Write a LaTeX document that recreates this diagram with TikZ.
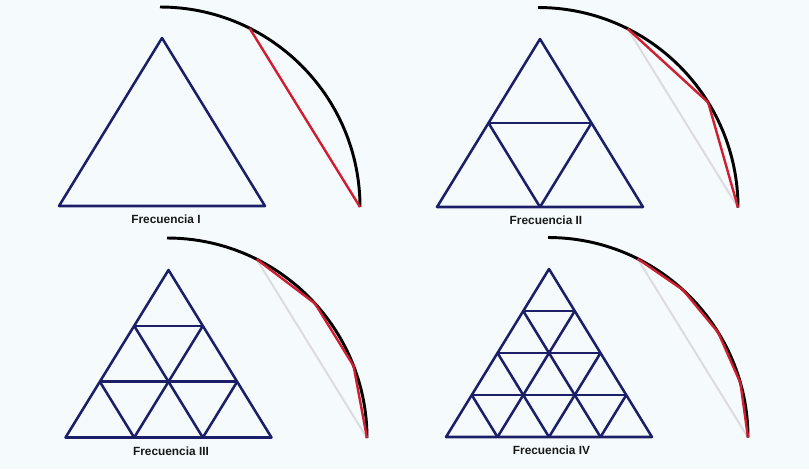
\documentclass[tikz,border=0pt]{standalone}
\usepackage{fontspec}
\setmainfont{Liberation Sans}
\usetikzlibrary{calc}
\definecolor{bgc}{RGB}{245,251,253}
\definecolor{navy}{RGB}{28,30,104}
\definecolor{redc}{RGB}{208,30,48}
\definecolor{grayc}{RGB}{220,220,224}
\tikzset{
  tri/.style={draw=navy,line width=1.9pt,line join=round},
  arcl/.style={draw=black,line width=2.2pt},
  redl/.style={draw=redc,line width=1.8pt,line join=round},
  grayl/.style={draw=grayc,line width=1.5pt},
  lab/.style={font=\bfseries\fontsize{8.9pt}{10pt}\selectfont,text=black!90,inner sep=0pt}
}
% #1 id, #2 n, #3 arc cx, #4 arc cy, #5 tri cx, #6 apex y, #7 base y, #8 label x, #9 label
\newcommand{\drawpanel}[9]{%
  \coordinate (C#1) at (#3,#4);
  \coordinate (A#1) at (#5,#6);
  \coordinate (L#1) at ({#5-103},#7);
  \coordinate (R#1) at ({#5+103},#7);
  \draw[tri] (A#1) -- (L#1) -- (R#1) -- cycle;
  \ifnum#2>1
    \pgfmathtruncatemacro\nm{#2-1}%
    \foreach \i in {1,...,\nm}{
      \pgfmathsetmacro\t{\i/#2}
      \draw[tri] ($(A#1)!\t!(L#1)$) -- ($(A#1)!\t!(R#1)$);
      \draw[tri] ($(L#1)!\t!(R#1)$) -- ($(L#1)!\t!(A#1)$);
      \draw[tri] ($(L#1)!\t!(R#1)$) -- ($(A#1)!\t!(R#1)$);
    }
    \draw[grayl] ($(C#1)+({-63.4}:200)$) -- ($(C#1)+(0:200)$);
  \fi
  \draw[arcl] ($(C#1)+(-90:200)$) arc[start angle=-90,end angle=0,radius=200];
  \draw[redl] ($(C#1)+({-63.4}:200)$)
    \foreach \k in {1,...,#2}{ -- ($(C#1)+({-63.4*(1-\k/#2)}:200)$) };
  \node[lab] (lab#1) at (#8,{#7+13.5}) {#9};
}
\begin{document}
\begin{tikzpicture}[x=0.75pt,y=-0.75pt]
  \fill[bgc] (0,0) rectangle (809,469);
  \useasboundingbox (0,0) rectangle (809,469);
  \drawpanel{1}{1}{160}{207}{162}{38}{206}{166}{Frecuencia I}
  \drawpanel{2}{2}{538}{207.5}{540}{39}{207}{546}{Frecuencia II}
  \drawpanel{3}{3}{167}{438}{168.5}{270}{437.5}{171}{Frecuencia III}
  \drawpanel{4}{4}{548}{437.5}{549}{269}{437}{551.5}{Frecuencia IV}
\end{tikzpicture}
\end{document}
